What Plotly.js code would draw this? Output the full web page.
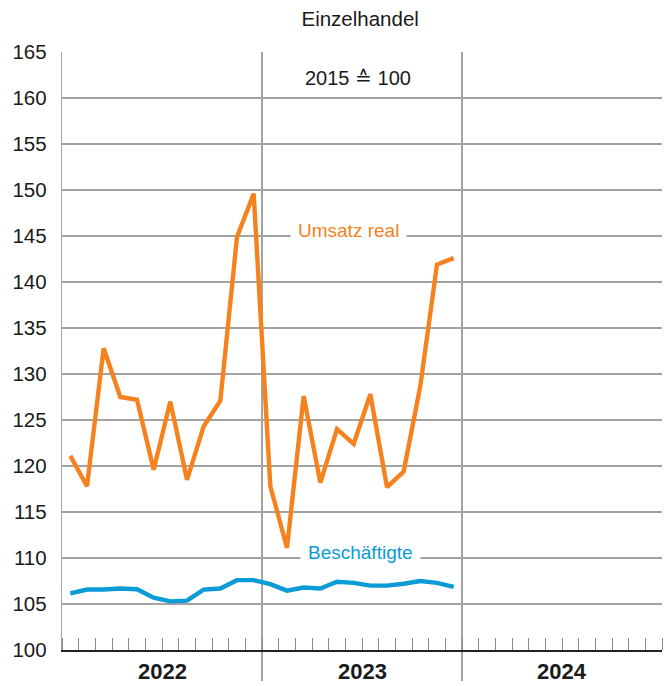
<!DOCTYPE html>
<html>
<head>
<meta charset="utf-8">
<script src="https://cdn.plot.ly/plotly-3.0.1.min.js"></script>
<style>
html,body{margin:0;padding:0;background:#fff;}
#chart{width:671px;height:686px;}
</style>
</head>
<body>
<div id="chart"></div>
<script>
// Monthly index values, Jan 2022 - Dec 2023 (2015 = 100)
const months = ['2022-01','2022-02','2022-03','2022-04','2022-05','2022-06','2022-07','2022-08','2022-09','2022-10','2022-11','2022-12',
                '2023-01','2023-02','2023-03','2023-04','2023-05','2023-06','2023-07','2023-08','2023-09','2023-10','2023-11','2023-12'];
const umsatzReal = [121.1,117.8,132.8,127.5,127.2,119.6,127.0,118.5,124.3,127.1,144.9,149.6,
                    117.8,111.1,127.6,118.2,124.0,122.4,127.8,117.7,119.4,128.7,141.9,142.6];
const beschaeftigte = [106.15,106.57,106.57,106.68,106.6,105.69,105.29,105.36,106.57,106.68,107.59,107.59,
                       107.15,106.45,106.79,106.68,107.41,107.3,107.0,107.0,107.2,107.5,107.3,106.86];
const years = ['2022','2023','2024'];
const seriesNames = ['Umsatz real','Beschäftigte'];
const chartTitle = 'Einzelhandel';
const baseNote = '2015 \u2259 100';

const ORANGE = '#F5821F';
const BLUE = '#0B9BD7';
const FONT = 'Liberation Sans, Arial, sans-serif';

// x position: month index centred in its month slot
const xPos = months.map((m, i) => i + 0.5);

const traces = [
  {x: xPos, y: umsatzReal, type: 'scatter', mode: 'lines', name: seriesNames[0],
   line: {color: ORANGE, width: 4.4}, hoverinfo: 'skip'},
  {x: xPos, y: beschaeftigte, type: 'scatter', mode: 'lines', name: seriesNames[1],
   line: {color: BLUE, width: 4.4}, hoverinfo: 'skip'}
];

const plotTop = 52, plotBottom = 650;
const annotations = [];
years.forEach((y, i) => {
  annotations.push({x: i * 12 + 6, xref: 'x', y: (plotBottom - 671) / (plotBottom - plotTop), yref: 'paper',
    text: '<b>' + y + '</b>', showarrow: false, font: {family: FONT, size: 22, color: '#1a1a1a'},
    xanchor: 'center', yanchor: 'middle'});
});
annotations.push({x: 17.19, xref: 'x', y: 145.65, yref: 'y', text: seriesNames[0], showarrow: false,
  font: {family: FONT, size: 19, color: ORANGE}, bgcolor: '#fff', borderpad: 7});
annotations.push({x: 17.88, xref: 'x', y: 110.65, yref: 'y', text: seriesNames[1], showarrow: false,
  font: {family: FONT, size: 19, color: BLUE}, bgcolor: '#fff', borderpad: 7});
annotations.push({x: 17.75, xref: 'x', y: 162.2, yref: 'y', text: baseNote, showarrow: false,
  font: {family: FONT, size: 20, color: '#1a1a1a'}});

const layout = {
  width: 671, height: 686,
  margin: {l: 62, r: 9, t: 52, b: 36, pad: 0},
  paper_bgcolor: '#fff', plot_bgcolor: '#fff',
  showlegend: false,
  title: {text: chartTitle, x: 0.497, xref: 'paper', xanchor: 'center', y: 1 - 19/686, yref: 'container', yanchor: 'middle',
          font: {family: FONT, size: 20.5, color: '#1a1a1a'}},
  font: {family: FONT, color: '#1a1a1a'},
  xaxis: {
    range: [0, 36], fixedrange: true,
    tickmode: 'array', tickvals: [12, 24], showticklabels: false,
    ticks: 'outside', ticklen: 29, tickcolor: '#a3a3a3', tickwidth: 1.3,
    showgrid: true, gridcolor: '#a3a3a3', gridwidth: 1.3,
    showline: true, linecolor: '#222', linewidth: 2,
    zeroline: false,
    minor: {tickmode: 'linear', tick0: 0, dtick: 1, ticks: 'inside', ticklen: 12, tickcolor: '#8a8a8a', tickwidth: 1, showgrid: false}
  },
  yaxis: {
    range: [100, 165], fixedrange: true,
    tickmode: 'linear', tick0: 100, dtick: 5,
    ticks: 'outside', ticklen: 10, tickcolor: 'rgba(0,0,0,0)',
    tickfont: {family: FONT, size: 20.5, color: '#1a1a1a'},
    showgrid: true, gridcolor: '#a3a3a3', gridwidth: 1.3,
    showline: true, linecolor: '#a3a3a3', linewidth: 1.3,
    zeroline: false
  },
  annotations: annotations
};

Plotly.newPlot('chart', traces, layout, {staticPlot: true, displayModeBar: false});
</script>
</body>
</html>
